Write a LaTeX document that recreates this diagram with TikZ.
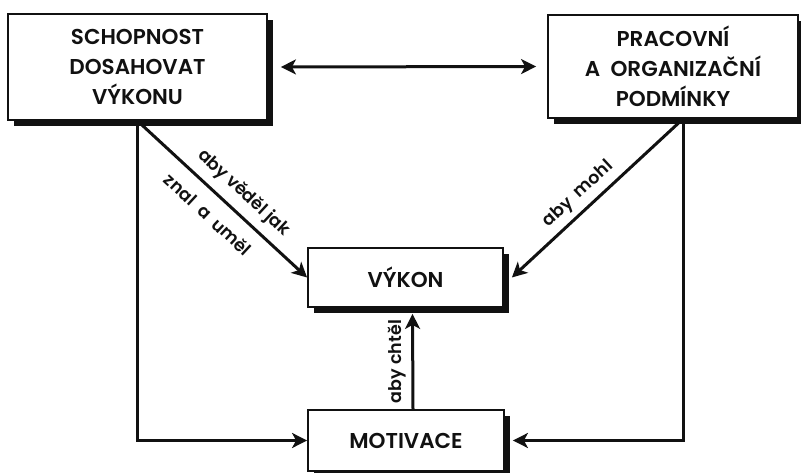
\documentclass[tikz,border=0pt]{standalone}
\usepackage{fontspec}
\setmainfont{Poppins}[UprightFont=* Medium,BoldFont=* SemiBold]
\usetikzlibrary{arrows.meta,positioning,shadows}
\definecolor{ink}{HTML}{111111}
\tikzset{
  blk/.style={rectangle,draw=ink,line width=1.8pt,fill=white,
              general shadow={fill=ink,shadow xshift=6pt,shadow yshift=-6pt},
              font=\fontsize{21.5}{30}\selectfont\bfseries,align=center,
              text=ink,inner sep=0pt},
  arr/.style={-{Stealth[length=15pt,width=15pt,inset=4pt]},line width=3pt,
              color=ink},
  darr/.style={{Stealth[length=15pt,width=15pt,inset=4pt]}-{Stealth[length=15pt,width=15pt,inset=4pt]},
               line width=3pt,color=ink},
  lbl/.style={font=\fontsize{17.5}{18}\selectfont\bfseries,text=ink},
}

\begin{document}
\begin{tikzpicture}[x=1pt,y=-1pt]
  \useasboundingbox (0,0) rectangle (801,473);

  % boxes
  \node[blk,minimum width=259pt,minimum height=106pt] (sdv) at (137.5,67)
    {SCHOPNOST\\DOSAHOVAT\\VÝKONU};
  \node[blk,minimum width=250pt,minimum height=103pt] (pod) at (673,66.5)
    {PRACOVNÍ\\A\ \ ORGANIZAČNÍ\\PODMÍNKY};
  \node[blk,minimum width=195pt,minimum height=59pt] (vyk) at (405.5,277.5)
    {VÝKON};
  \node[blk,minimum width=196pt,minimum height=61pt] (mot) at (406,440.5)
    {MOTIVACE};

  % connectors
  \draw[darr,shorten <=13pt,shorten >=11pt] (sdv.east) -- (pod.west);
  \draw[arr] (sdv.south) |- (mot.west);
  \draw[arr] ([xshift=10pt]pod.south) |- ([xshift=8pt]mot.east);
  \draw[arr] (sdv.south) -- (vyk.west)
    node[lbl,sloped,above=5pt,pos=0.55] {aby věděl jak}
    node[lbl,sloped,below=9pt,pos=0.5] {znal\ \ a\ \ uměl};
  \draw[arr] ([xshift=10pt]pod.south) -- ([xshift=8pt]vyk.east)
    node[lbl,sloped,above=2pt,pos=0.55] {aby\ \ mohl};
  \draw[arr] ([xshift=7pt]mot.north) -- ([xshift=7pt,yshift=-6pt]vyk.south)
    node[lbl,rotate=90,anchor=south,inner sep=5pt,pos=0.5] {aby chtěl};
\end{tikzpicture}
\end{document}
